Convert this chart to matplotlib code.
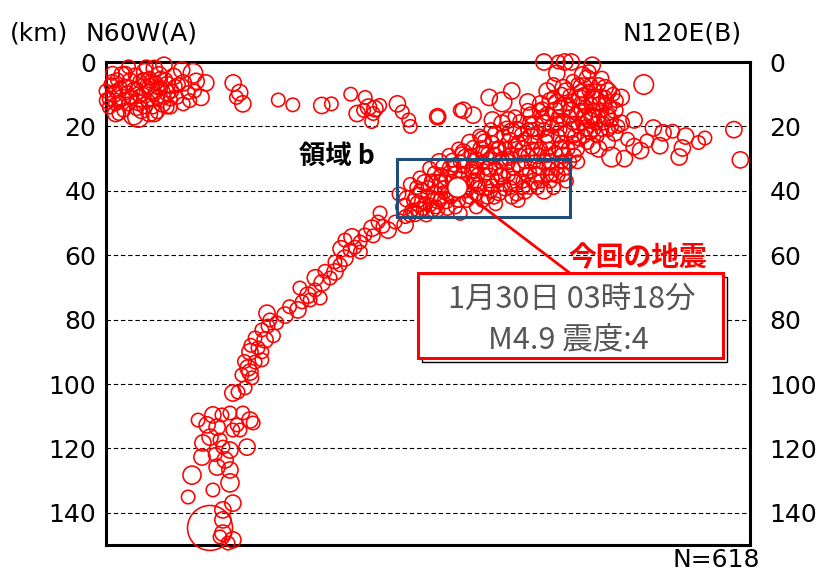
import numpy as np
import matplotlib.pyplot as plt
from matplotlib.patches import Rectangle

# (distance km along A-B, depth km, magnitude-ish)
shallow = [
    (0, 9, 2), (0.5, 12, 2.5), (1, 14, 2), (1.5, 7, 2), (2.5, 10, 2.5), (3, 13, 2), (3.5, 5.5, 2),
    (4.5, 8, 2), (5, 11, 2.5), (5.5, 15, 2), (6, 3.5, 2), (6.5, 9.5, 2), (7, 13, 2), (7.5, 6, 2.5),
    (8, 11, 2), (8.5, 16.5, 3), (9, 4, 2), (9.5, 8.5, 2), (10, 12.5, 2.5), (10.5, 6, 2), (11, 15, 2.5),
    (11.5, 10, 2), (12, 3, 2.5), (12.5, 7.5, 2), (13, 12, 2), (13.5, 5, 2), (14, 9, 2.5), (14.5, 14, 2),
    (15, 2, 2.5), (15.5, 6.5, 2), (16, 11, 2), (16.5, 4, 2.5), (17, 8, 2), (17.5, 13, 2.5), (18, 1, 2.5),
    (18.5, 5.5, 2), (19, 9.5, 2.5), (2, 3.5, 2), (7, 1.5, 2), (12.5, 1.5, 2), (4, 16, 2), (16, 15.5, 2),
    (19, 14, 2), (10, 17, 3.2), (13.5, 16, 2.5),
    (1, 11.5, 2), (2, 6, 2), (3, 9, 2), (4, 12.5, 2), (5, 4, 2.5), (6, 7.5, 2), (7.5, 11, 2), (8.5, 8.5, 2),
    (9.5, 14.5, 2), (10.5, 10.5, 2), (11.5, 5.5, 2), (12, 13.5, 2.5), (13, 8, 2), (14, 6, 2), (15, 10, 2),
    (16, 8, 2), (17, 5, 2), (18, 11, 2), (19, 7, 2.5), (20, 11.5, 2), (21.5, 7.5, 2), (3, 16, 2.5),
    (15, 16, 2.5),
    (20, 14, 2), (21, 4.5, 2.5), (22, 11, 2), (22.5, 7, 2), (23.5, 2.5, 2.5), (24, 6.5, 2.5), (24, 13, 2),
    (25.5, 9.5, 2), (27, 3.5, 3), (27.5, 9, 2), (28, 6, 2.5), (29.5, 11, 2.5), (31, 6.5, 2.5), (26, 12, 2),
    (20.5, 9, 2),
    (39.5, 6.5, 2.5), (41.5, 9.5, 2.5), (42.5, 13, 2.5), (40.5, 11, 2), (53.5, 11.8, 2), (58, 13.3, 2),
    (67, 13.5, 2.5), (70, 13, 2), (76, 10, 2), (78, 16, 2.5), (80.5, 11, 2), (81.5, 14, 2.5),
    (83.5, 14.5, 2.5), (82.5, 18.5, 2), (80, 15, 2), (90.5, 13, 2.5), (92, 15.5, 2), (94, 18, 2),
    (94.5, 20, 2), (103, 17, 2), (110, 15, 2), (83, 16, 2), (85, 13.5, 2),
]

slab = [
    (103.7, 42.9, 2), (100.6, 44.4, 2), (97.5, 46, 2.5), (94.4, 47.5, 2), (92.9, 50.6, 2.5), (89.8, 49.7, 2),
    (87.6, 52.2, 2.5), (85.1, 46.9, 2), (84.5, 49.7, 2), (82.6, 51.6, 2.5), (80.4, 53.7, 2), (78.9, 55.9, 2),
    (76.4, 54.3, 2.5), (75.8, 58.4, 2), (74.2, 60.9, 2.5), (72.7, 63, 2), (71.1, 65.2, 2.5), (69.6, 67.1, 2),
    (67.1, 68.6, 2.5), (64.9, 70.8, 2), (62.7, 72.4, 2.5), (60.9, 74.5, 2), (59.6, 77, 2.5), (55.6, 78.6, 2.5),
    (50.9, 80.1, 2), (48.4, 83.2, 2), (49.4, 86.3, 2.5), (47.2, 88.8, 2), (44.7, 90, 2.5), (48.4, 90, 2),
    (46.3, 93.2, 2), (44.1, 95, 2.5), (42.2, 97.2, 2), (45.3, 98.1, 2), (41, 102.5, 2), (43.2, 101.2, 2),
    (77.3, 57.5, 2), (74.2, 55.3, 2), (71.1, 62.1, 2), (66.5, 73.3, 2), (63.4, 73.9, 2), (60.2, 70.2, 2),
    (50.3, 82, 2), (46.3, 85.7, 2), (48.4, 92.5, 2), (44.7, 96.3, 2.5),
    (86, 51, 2), (83, 54, 2), (79, 59, 2), (73, 58, 2.5), (68, 65, 2), (65, 67, 2.5), (57, 76, 2),
    (53, 81, 2), (52, 85, 2), (45, 88, 2), (43, 93, 2), (50, 78, 2.5),
    (39.4, 102.8, 2.5), (33.2, 109.6, 2.5), (38.5, 109, 2), (44.7, 111.2, 2.5), (45.7, 112.1, 2),
    (34.5, 113.4, 2.5), (39.4, 114.3, 2), (32.3, 116.5, 2.5), (30.1, 118.3, 2.5), (36.3, 119.6, 2),
    (38.5, 120.5, 2.5), (43.8, 119.6, 2.5), (29.8, 122.7, 2.5), (34.5, 125.8, 2.5), (38.5, 126.7, 2.5),
    (26.7, 128.3, 2.8), (38.5, 130.7, 2.8), (25.5, 135.1, 2), (39.4, 137, 2.5), (36.3, 139.1, 2.5),
    (36.3, 142.2, 2.5), (32.3, 144.7, 5.25), (36.3, 146.3, 2.5), (39.4, 148.4, 2.5), (35.4, 147.5, 2),
    (37.9, 149.4, 2), (28.6, 111.2, 2), (31.4, 112.7, 2.5), (35.4, 117.4, 2), (41.6, 114.3, 2),
    (33.9, 121.9, 2), (37, 123.6, 2.5), (33.2, 132.9, 2), (36, 109.6, 2), (42.5, 109, 2), (40.7, 112.7, 2),
]

cluster = [
    (91, 41, 2), (92.5, 45, 2.5), (93, 48, 2), (94.5, 38, 2), (95.5, 43, 2), (96, 47, 2.5), (97.5, 36, 2),
    (98, 40, 2.5), (99, 44, 2), (99.5, 47.5, 2), (100.5, 33, 2), (101, 37, 2), (102, 41, 2.5), (102.5, 45, 2),
    (103.5, 31, 2.5), (104, 35, 2), (105, 39, 2), (105.5, 43, 2.5), (106.5, 29, 2), (107, 33, 2.5),
    (107.5, 37, 2), (108, 41, 2), (108.5, 45, 2), (109.5, 27, 2), (110, 31, 2), (111, 35, 2.5), (111.5, 40, 2),
    (112, 43, 2), (113, 25, 2.5), (113.5, 29, 2), (114, 33, 2), (114.5, 37, 2.5), (115, 41, 2), (116, 23, 2),
    (116.5, 27, 2.5), (117, 31, 2), (117.5, 35, 2), (118, 39, 2.5), (118.5, 42, 2), (119.5, 21, 2),
    (120, 25, 2), (120.5, 29, 2.5), (121, 33, 2), (121.5, 37, 2), (122, 40.5, 2.5), (123, 19, 2.5),
    (123.5, 23, 2), (124, 27, 2), (124.5, 31, 2.5), (125, 35, 2), (125.5, 39, 2), (126, 42, 2), (127, 17, 2),
    (127.5, 21, 2.5), (128, 25, 2), (128.5, 29, 2), (129, 33, 2.5), (129.5, 37, 2), (130, 40, 2.5),
    (131, 15, 2), (131.5, 19, 2), (132, 23, 2.5), (132.5, 27, 2), (133, 31, 2), (133.5, 35, 2.5), (134, 39, 2),
    (135, 13, 2.5), (135.5, 17, 2), (136, 21, 2), (136.5, 25, 2.5), (137, 29, 2), (137.5, 33, 2), (138, 37, 2),
    (139, 11, 2), (139.5, 15, 2.5), (140, 19, 2), (140.5, 23, 2), (141, 27, 2.5), (141.5, 31, 2), (142, 35, 2),
    (143, 9, 2.5), (143.5, 13, 2), (144, 17, 2), (144.5, 21, 2.5), (145, 25, 2), (145.5, 29, 2), (146.5, 7, 2),
    (147, 11, 2.5), (147.5, 15, 2), (148, 19, 2), (148.5, 23, 2), (149.5, 5, 2.5), (150, 9, 2), (150.5, 13, 2),
    (151, 17, 2.5), (151.5, 21, 2), (153, 7, 2), (153.5, 11, 2.5), (154, 15, 2), (154.5, 19, 2),
    (156, 9, 2.5), (156.5, 14, 2), (157, 18, 2), (158.5, 12, 2), (159, 20, 2),
    (97, 42, 3), (103, 38, 3), (112, 30, 3), (119, 36, 3), (126, 22, 3), (133, 20, 3), (138, 24, 3),
    (142, 14, 3), (148, 8, 3), (152, 12, 3), (121, 44, 2), (115, 45, 2), (128, 43, 2), (136, 40, 2.5),
    (110, 47, 2),
    (93.5, 42.5, 2.5), (95, 46, 2), (96.5, 39, 2), (98.5, 45.5, 2), (99, 37.5, 2.5), (100, 41.5, 2),
    (101.5, 46, 2), (102, 34.5, 2), (103, 43, 2.5), (104.5, 32.5, 2), (105, 40.5, 2), (106, 36, 2.5),
    (106, 45.5, 2), (107.5, 30.5, 2), (108.5, 34.5, 2), (109, 39, 2.5), (109.5, 43, 2), (110.5, 28.5, 2),
    (111, 32.5, 2), (112, 37.5, 2), (113, 41.5, 2.5), (114, 26.5, 2), (115, 30.5, 2.5), (115.5, 35, 2),
    (116, 39, 2), (117, 43, 2), (117.5, 24.5, 2), (118.5, 28.5, 2), (119, 33, 2.5), (120, 38.5, 2),
    (120.5, 42, 2), (121, 22.5, 2.5), (122, 26.5, 2), (122.5, 31, 2), (123, 35.5, 2.5), (124, 39.5, 2),
    (124.5, 20.5, 2), (125.5, 24.5, 2.5), (126, 28.5, 2), (126.5, 33, 2), (127, 37.5, 2.5), (127.5, 41, 2),
    (128.5, 18.5, 2), (129, 22.5, 2), (129.5, 27, 2.5), (130, 31, 2), (130.5, 35, 2), (131.5, 38.5, 2.5),
    (132, 16.5, 2.5), (132.5, 21, 2), (133, 25, 2), (134, 29, 2.5), (134.5, 33, 2), (135, 37, 2),
    (135.5, 14.5, 2), (136, 19, 2.5), (137, 23, 2), (137.5, 27, 2), (138, 31, 2.5), (138.5, 35, 2),
    (139, 39, 2), (140, 12.5, 2.5), (140.5, 17, 2), (141, 21, 2), (141.5, 25, 2), (142, 29, 2.5),
    (142.5, 33, 2), (143, 37, 2), (144, 10.5, 2), (144.5, 15, 2.5), (145, 19, 2), (145.5, 23, 2),
    (146, 27, 2.5), (146.5, 31, 2), (147.5, 9, 2), (148, 13, 2), (148.5, 17, 2.5), (149, 21, 2),
    (149.5, 25, 2), (150.5, 7, 2), (151, 11, 2.5), (151.5, 15, 2), (152, 19, 2), (152.5, 23, 2),
    (154, 5, 2), (155, 13, 2), (155.5, 17, 2.5), (156, 21, 2), (157.5, 10, 2), (158, 15, 2.5),
    (148, 4, 2.5), (145, 6, 2), (142, 8, 2.5), (139, 7, 2), (155, 8, 2.5), (150, 3, 2),
    (104, 37, 2), (106, 41, 2), (108, 32, 2), (110, 36.5, 2.5), (112, 40, 2), (113.5, 34, 2), (115.5, 38, 2),
    (117, 28, 2), (118, 33, 2), (119.5, 40, 2), (121.5, 27, 2), (122.5, 35, 2), (123.5, 38, 2), (125, 30, 2),
    (126.5, 36, 2), (128, 32, 2), (129.5, 39, 2), (130, 24, 2), (131, 29, 2), (131.5, 34, 2), (133, 37, 2.5),
    (134, 22, 2), (135, 27, 2), (136, 31, 2.5), (137, 35, 2), (137, 16, 2), (138.5, 20, 2), (139.5, 28, 2),
    (140, 33, 2), (141, 14, 2), (142, 18, 2), (143, 22, 2.5), (143.5, 27, 2), (144, 31, 2), (145, 12, 2),
    (146, 16, 2), (146.5, 20, 2), (147, 24, 2), (148.5, 10, 2), (149, 14, 2), (150, 18, 2.5), (150.5, 22, 2),
    (152, 9, 2), (153, 13, 2), (153, 17, 2), (154, 21, 2), (155, 11, 2), (156, 16, 2), (157, 20, 2),
    (141.5, 10, 2), (138, 12, 2.5), (134.5, 15, 2), (131, 21, 2), (127, 26, 2), (123, 30, 2), (119, 30, 2),
    (115, 33, 2), (111, 38, 2), (107, 42, 2), (103, 46, 2), (100, 39, 2), (97, 44, 2.5),
]

tail = [
    (136, 0, 2.5), (142.5, 0, 2.5), (144.5, 0, 2.5), (140.5, 0, 2), (151, 1, 2.5), (140, 3.5, 2.5),
    (137, 9, 2.5), (167, 7, 3), (160, 11, 2.5), (119, 11, 2.5), (126, 9, 2.5), (123, 12.4, 3),
    (131, 12.4, 2.5), (111, 15, 2.5), (114, 16.5, 2.5), (103, 17, 2.5), (120, 18, 2.5), (125, 18, 2.5),
    (164, 18, 2.5), (160, 19, 2.5), (170, 20.5, 2.5), (173, 22, 2.5), (180, 23, 2.5), (186, 23.6, 2),
    (195, 21, 2.5), (197, 30.4, 2.5), (178, 29.5, 2.5), (179, 26.7, 2.5), (157, 29.5, 3), (155.6, 25, 2.5),
    (164, 26.3, 2.5), (166, 27.5, 2.5), (151, 26, 2.5), (140, 35, 2.5), (117, 24, 2.5), (111, 28, 2.5),
    (149, 20.5, 2.5), (151, 16.5, 2.5), (158, 22, 2.5), (162, 24, 2), (168, 24.5, 2), (172, 26, 2.5),
    (176, 21.5, 2), (184, 25, 2), (153, 27, 2.5), (161, 30, 2.5),
]

latest = (109, 38.8)
region_b = (90.5, 30, 144, 48)  # x0, d0, x1, d1
depth_ticks = [0, 20, 40, 60, 80, 100, 120, 140]
event_lines = ["1月30日 03時18分", "M4.9 震度:4"]
n_total = 618

fig = plt.figure(figsize=(8.24, 5.76), dpi=100)
ax = fig.add_axes([106 / 824, 31 / 576, 644 / 824, 483 / 576])

x, d, m = np.array(shallow + slab + cluster + tail).T
ax.scatter(x, d, s=(4.6 * 1.45 ** m) ** 2, facecolors='none', edgecolors='red',
           linewidths=1.15, clip_on=False, zorder=3)

for y in depth_ticks[1:]:
    ax.axhline(y, color='black', lw=0.8, ls=(0, (4, 2.5)), zorder=1)

ax.set_xlim(0, 200)
ax.set_ylim(150, 0)
ax.set_xticks([])
ax.set_yticks(depth_ticks)
ax.tick_params(axis='y', length=0, labelsize=18, pad=7)
for s in ax.spines.values():
    s.set_linewidth(2.2)

ax2 = ax.twinx()
ax2.set_ylim(150, 0)
ax2.set_yticks(depth_ticks)
ax2.tick_params(axis='y', length=0, labelsize=18, pad=14)
for s in ax2.spines.values():
    s.set_visible(False)

# region b
x0, d0, x1, d1 = region_b
ax.add_patch(Rectangle((x0, d0), x1 - x0, d1 - d0, fill=False, edgecolor='#1f4e79', lw=2.2, zorder=5))
ax.text(71.7, 29.2, '領域 b', fontsize=19, fontweight='bold', family=['Noto Sans CJK JP'],
        ha='center', va='center', zorder=6)

# latest event
ax.plot([latest[0], 144], [latest[1], 65.5], color='red', lw=2, zorder=6)
ax.scatter([latest[0]], [latest[1]], s=207, facecolors='white', edgecolors='red', linewidths=1.5, zorder=7)
ax.text(165, 61, '今回の地震', color='red', fontsize=20, fontweight='bold',
        family=['Noto Sans CJK JP'], ha='center', va='center', zorder=6)
ax.add_patch(Rectangle((98.1, 66.7), 94.7, 26.4, facecolor='white', edgecolor='black', lw=1, zorder=6))
ax.add_patch(Rectangle((96.9, 65.5), 94.7, 26.4, facecolor='white', edgecolor='red', lw=2.2, zorder=7))
ax.text(144.7, 73.9, event_lines[0], color='#555555', fontsize=22, family=['Noto Sans CJK JP'],
        ha='center', va='center', zorder=8)
ax.text(143.5, 86.3, event_lines[1], color='#555555', fontsize=22, family=['Noto Sans CJK JP'],
        ha='center', va='center', zorder=8)

fig.text(10 / 824, 1 - 33 / 576, '(km)', fontsize=18, va='center', ha='left')
fig.text(85 / 824, 1 - 33 / 576, 'N60W(A)', fontsize=18, va='center', ha='left')
fig.text(742 / 824, 1 - 33 / 576, 'N120E(B)', fontsize=18, va='center', ha='right')
fig.text(760 / 824, 1 - 560 / 576, f'N={n_total}', fontsize=18, va='center', ha='right')

fig.savefig('out.png', dpi=100)
